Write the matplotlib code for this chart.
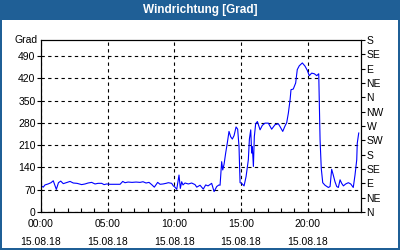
"""Windrichtung [Grad] - Tagesverlauf 15.08.18."""

import matplotlib

matplotlib.use("Agg")
import matplotlib.pyplot as plt
from matplotlib.patches import Rectangle
from matplotlib.ticker import MultipleLocator
import matplotlib.transforms as mtransforms

# Stunden seit 00:00 und Windrichtung in Grad
hours = [
    0.00, 0.17, 0.30, 0.53, 0.75, 0.92, 1.15, 1.31, 1.48, 1.67, 1.88, 2.18,
    2.42, 2.70, 3.05, 3.30, 3.53, 3.80, 4.05, 4.28, 4.55, 4.73, 4.93, 5.18,
    5.55, 5.93, 6.13, 6.30, 6.53, 6.83, 7.13, 7.43, 7.65, 7.88, 8.10, 8.30,
    8.50, 8.75, 8.93, 9.15, 9.38, 9.55, 9.80, 9.92, 10.05, 10.18, 10.35, 10.45,
    10.55, 10.65, 10.80, 11.05, 11.30, 11.55, 11.68, 11.93, 12.17, 12.35, 12.53, 12.80,
    12.98, 13.18, 13.35, 13.43, 13.55, 13.63, 13.73, 13.85, 13.97, 14.10, 14.23, 14.35,
    14.48, 14.63, 14.75, 14.85, 14.93, 15.05, 15.23, 15.38, 15.55, 15.63, 15.73, 15.80,
    15.85, 15.93, 16.00, 16.10, 16.23, 16.43, 16.60, 16.80, 17.05, 17.30, 17.55, 17.80,
    17.93, 18.13, 18.28, 18.43, 18.55, 18.68, 18.75, 18.92, 19.10, 19.22, 19.37, 19.60,
    19.80, 19.97, 20.12, 20.30, 20.50, 20.68, 20.83, 20.93, 21.02, 21.13, 21.30, 21.55,
    21.68, 21.80, 21.92, 22.05, 22.18, 22.30, 22.43, 22.55, 22.68, 22.85, 23.05, 23.23,
    23.42, 23.55, 23.68, 23.72, 23.83,
]
degrees = [
    82, 78, 85, 88, 92, 98, 71, 92, 97, 89, 92, 96,
    91, 90, 86, 88, 91, 93, 88, 90, 90, 86, 88, 87,
    87, 87, 96, 92, 94, 93, 94, 93, 95, 91, 93, 86,
    78, 93, 87, 88, 90, 92, 90, 82, 78, 71, 116, 74,
    95, 85, 91, 88, 91, 86, 78, 84, 72, 85, 82, 90,
    64, 80, 85, 84, 158, 132, 150, 185, 216, 253, 236, 229,
    240, 267, 260, 206, 92, 90, 82, 111, 164, 229, 258, 185,
    205, 143, 237, 277, 284, 258, 272, 279, 279, 260, 274, 277,
    268, 253, 268, 281, 310, 352, 384, 386, 405, 447, 459, 468,
    458, 445, 428, 436, 434, 428, 434, 227, 137, 92, 84, 77,
    80, 134, 116, 95, 80, 77, 101, 90, 82, 88, 92, 88,
    77, 116, 164, 216, 248,
]

left_ticks = [0, 70, 140, 210, 280, 350, 420, 490]
compass_ticks = [0, 45, 90, 135, 180, 225, 270, 315, 360, 405, 450, 495, 540]
compass_labels = ["N", "NE", "E", "SE", "S", "SW", "W", "NW", "N", "NE", "E", "SE", "S"]
time_ticks = [0, 5, 10, 15, 20]
time_labels = ["00:00\n15.08.18", "05:00\n15.08.18", "10:00\n15.08.18",
               "15:00\n15.08.18", "20:00\n15.08.18"]

FRAME = "#1f5f96"
FONT = "Liberation Sans"

fig = plt.figure(figsize=(4, 2.5), dpi=100)
fig.patch.set_facecolor("white")

# Titelleiste und Rahmen
W, H = 400.0, 250.0
fig.patches.append(Rectangle((0, 1 - 20 / H), 1, 20 / H, transform=fig.transFigure,
                             facecolor=FRAME, edgecolor="none", zorder=0))
fig.patches.append(Rectangle((0, 0), 2 / W, 1, transform=fig.transFigure,
                             facecolor=FRAME, edgecolor="none", zorder=0))
fig.patches.append(Rectangle((1 - 2 / W, 0), 2 / W, 1, transform=fig.transFigure,
                             facecolor=FRAME, edgecolor="none", zorder=0))
fig.patches.append(Rectangle((0, 0), 1, 2 / H, transform=fig.transFigure,
                             facecolor=FRAME, edgecolor="none", zorder=0))
fig.text(0.5, 1 - 10.5 / H, "Windrichtung [Grad]", color="white", fontsize=8.5,
         fontweight="bold", family=FONT, ha="center", va="center")

ax = fig.add_axes([41 / W, 38 / H, 320 / W, 172 / H])
ax.plot(hours, degrees, color="#0000ff", lw=0.8, zorder=3)

ax.set_xlim(0, 24)
ax.set_ylim(0, 540)
ax.set_yticks(left_ticks)
ax.set_yticklabels([str(v) for v in left_ticks], family=FONT, fontsize=7.5)
ax.set_xticks(time_ticks)
ax.set_xticklabels(time_labels, family=FONT, fontsize=7.5, linespacing=1.95)
ax.xaxis.set_minor_locator(MultipleLocator(1))
ax.tick_params(axis="x", which="both", direction="in", length=3, width=0.8, pad=5)
ax.tick_params(axis="y", direction="out", length=3, width=0.8, pad=1)
ax.grid(True, color="black", lw=0.8, linestyle=(0, (3, 3)))

trans = mtransforms.blended_transform_factory(ax.transAxes, ax.transData)
ax.text(-0.012, 540, "Grad", transform=trans, ha="right", va="center",
        family=FONT, fontsize=7.5)

for sp in ax.spines.values():
    sp.set_linewidth(0.8)

ax2 = ax.twinx()
ax2.set_ylim(0, 540)
ax2.set_yticks(compass_ticks)
ax2.set_yticklabels(compass_labels, family=FONT, fontsize=7.5)
ax2.tick_params(axis="y", direction="out", length=3, width=0.8, pad=1)
for sp in ax2.spines.values():
    sp.set_linewidth(0.8)

fig.savefig("out.png", dpi=100)
